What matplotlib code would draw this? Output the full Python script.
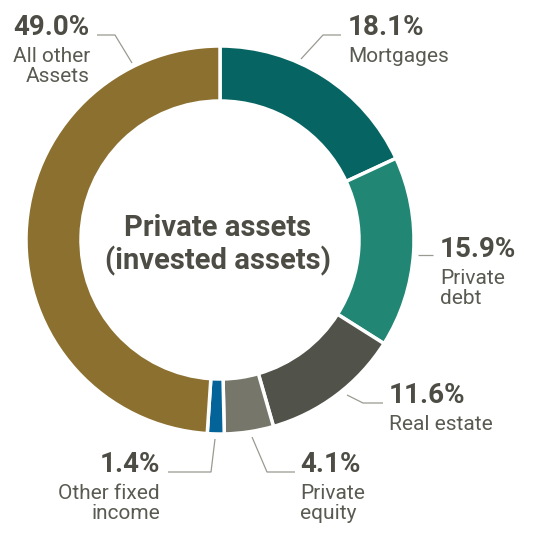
import matplotlib.pyplot as plt

plt.rcParams['font.family'] = ['Roboto', 'DejaVu Sans']

# data
labels = ['Mortgages', 'Private\ndebt', 'Real estate', 'Private\nequity',
          'Other fixed\nincome', 'All other\nAssets']
shares = [18.1, 15.9, 11.6, 4.1, 1.4, 49.0]
colors = ['#066563', '#218674', '#51524a', '#76776a', '#046399', '#8c702f']

# label layout in image pixels (y down): leader path, text anchor x, baseline y, align
H = 540
layout = [
    ([(301, 59), (323, 35), (341, 35)], 348, 35, 'left'),
    ([(418, 255), (433, 255)], 440, 257, 'left'),
    ([(347, 395), (363, 403), (383, 403)], 389, 403, 'left'),
    ([(252, 437), (267, 472), (295, 472)], 300, 472, 'left'),
    ([(215, 439), (211, 472), (168, 472)], 160, 472, 'right'),
    ([(132, 63), (115, 35), (97, 35)], 90, 35, 'right'),
]

dark = '#4d4d45'
mid = '#5a5a52'

fig = plt.figure(figsize=(5.42, 5.4), dpi=100)
ax = fig.add_axes([0, 0, 1, 1])

ax.pie(shares, colors=colors, startangle=90, counterclock=False,
       center=(220, H - 240), radius=194, frame=True,
       wedgeprops=dict(width=55, edgecolor='white', linewidth=2.5))
ax.set_xlim(0, 542)
ax.set_ylim(0, 540)
ax.set_aspect('equal')
ax.axis('off')

for (path, tx, ty, ha), lab, val in zip(layout, labels, shares):
    xs = [p[0] for p in path]
    ys = [H - p[1] for p in path]
    ax.plot(xs, ys, color='#9a9a92', lw=0.9, solid_capstyle='butt')
    ax.text(tx, H - ty, f'{val:.1f}%', ha=ha, va='baseline',
            fontsize=20, fontweight='bold', color=dark)
    for i, line in enumerate(lab.split('\n')):
        ax.text(tx, H - ty - 27 - 20 * i, line, ha=ha, va='baseline',
                fontsize=15, color=mid)

ax.text(218, H - 236, 'Private assets', ha='center', va='baseline',
        fontsize=21, fontweight='bold', color=dark)
ax.text(218, H - 269, '(invested assets)', ha='center', va='baseline',
        fontsize=21, fontweight='bold', color=dark)

fig.savefig('out.png', dpi=100)
